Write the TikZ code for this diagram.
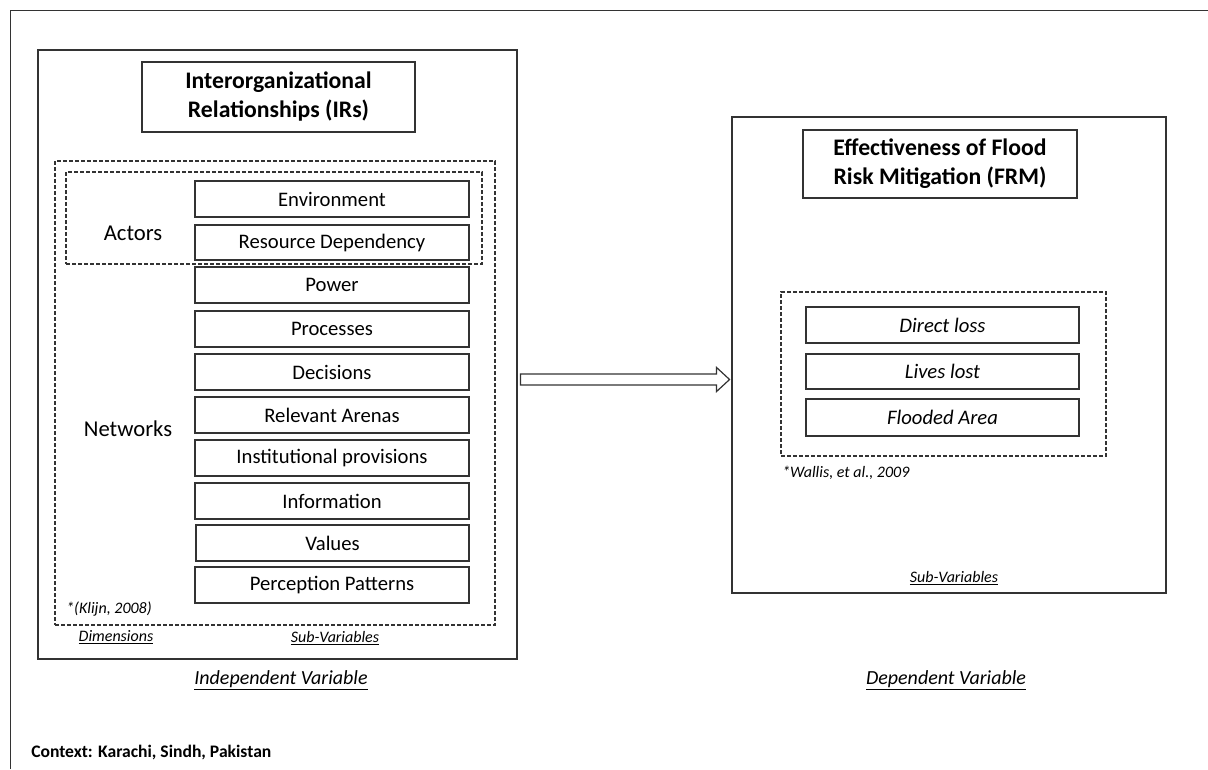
\documentclass[tikz,border=0pt]{standalone}
\usepackage{fontspec}
\setmainfont{Carlito}
\usetikzlibrary{fit,calc}
\definecolor{edge}{HTML}{333333}
\begin{document}
\begin{tikzpicture}[x=0.75pt,y=-0.75pt,
  panel/.style={draw=edge, line width=1.4pt, inner sep=0pt},
  titletext/.style={inner sep=0pt, align=center, font=\fontsize{17.8}{21.75}\selectfont\bfseries},
  titlebox/.style={draw=edge, line width=1.4pt, inner sep=0pt,
    label={[titletext]center:#1}},
  dashbox/.style={draw=edge, line width=0.9pt, dash pattern=on 3pt off 1.5pt, inner sep=0pt},
  boxtext/.style={inner sep=0pt, font=\fontsize{15.5}{18}\selectfont},
  subbox/.style={draw=edge, line width=1.4pt, inner sep=0pt, label={[boxtext]center:#1}},
  itembox/.style={draw=edge, line width=1.4pt, inner sep=0pt,
    label={[boxtext, font=\fontsize{15.5}{18}\selectfont\itshape]center:#1}},
  dimlabel/.style={font=\fontsize{17}{20}\selectfont, inner sep=0pt},
  note/.style={font=\fontsize{12}{14}\selectfont\itshape, inner sep=0pt},
  caption/.style={font=\fontsize{15}{18}\selectfont\itshape, inner sep=0pt},
  hollowarrow/.style={draw=edge, line width=0.9pt, fill=white, line join=miter}]
\useasboundingbox (0,0) rectangle (1208,769);

% outer frame (top and left edges)
\draw[draw=edge, line width=1.4pt] (10.5,769) -- (10.5,10.5) -- (1208,10.5);

% independent variable panel
\node[panel, fit={(38,50)(517,659)}] (ivbox) {};
\node[titlebox={Interorganizational\\Relationships (IRs)}, fit={(142,62)(415,132)}] (irs) {};
\node[dashbox, fit={(55,161)(495,625)}] (dims) {};
\node[dashbox, fit={(66,172)(482,264)}] (actorsgrp) {};

\node[subbox=Environment, fit={(195,181)(469,217)}] (env) {};
\node[subbox=Resource Dependency, fit={(195,225)(469,260)}] (resdep) {};
\node[subbox=Power, fit={(195,267)(469,303)}] (power) {};
\node[subbox=Processes, fit={(195,311)(469,347)}] (proc) {};
\node[subbox=Decisions, fit={(195,354)(469,390)}] (dec) {};
\node[subbox=Relevant Arenas, fit={(195,397)(469,433)}] (arenas) {};
\node[subbox=Institutional provisions, fit={(195,440)(469,476)}] (inst) {};
\node[subbox=Information, fit={(195,483)(469,519)}] (info) {};
\node[subbox=Values, fit={(196,525)(469,561)}] (values) {};
\node[subbox=Perception Patterns, fit={(195,567)(469,603)}] (percep) {};

\node[dimlabel] (actors) at (133,233) {Actors};
\node[dimlabel] (networks) at (128,429) {Networks};
\node[note, anchor=west] (klijn) at (66,609) {*(Klijn, 2008)};
\node[note] (dimcap) at (116,637) {\underline{Dimensions}};
\node[note] (subcapL) at (335,638) {\underline{Sub-Variables}};
\node[caption] (indep) at (281,680) {\underline{Independent Variable}};

% dependent variable panel
\node[panel, fit={(732,117)(1166,593)}] (dvbox) {};
\node[titlebox={Effectiveness of Flood\\Risk Mitigation (FRM)}, fit={(803,130)(1077,198)}] (frm) {};
\node[dashbox, fit={(781,292)(1106,456)}] (itemsgrp) {};
\node[itembox=Direct loss, fit={(806,307)(1079,343)}] (loss) {};
\node[itembox=Lives lost, fit={(806,354)(1079,389)}] (lives) {};
\node[itembox=Flooded Area, fit={(806,399)(1079,436)}] (area) {};
\node[note, anchor=west] (wallis) at (782,473) {*Wallis, et al., 2009};
\node[note] (subcapR) at (954,578) {\underline{Sub-Variables}};
\node[caption] (dep) at (946,680) {\underline{Dependent Variable}};

% block arrow from the IRs panel to the FRM panel
\coordinate (as) at ($(ivbox.east |- 0,379.5)+(2.5,0)$);
\coordinate (ae) at ($(dvbox.west |- as)+(-1.5,0)$);
\draw[hollowarrow]
  ($(as)+(0,-5.5)$) -- ($(ae)+(-13,-5.5)$) -- ($(ae)+(-13,-12)$) -- (ae)
  -- ($(ae)+(-13,12)$) -- ($(ae)+(-13,5.5)$) -- ($(as)+(0,5.5)$) -- cycle;

\node[font=\fontsize{13.2}{16}\selectfont\bfseries, anchor=west, inner sep=0pt] (context) at (31,753) {Context: Karachi, Sindh, Pakistan};
\end{tikzpicture}
\end{document}
